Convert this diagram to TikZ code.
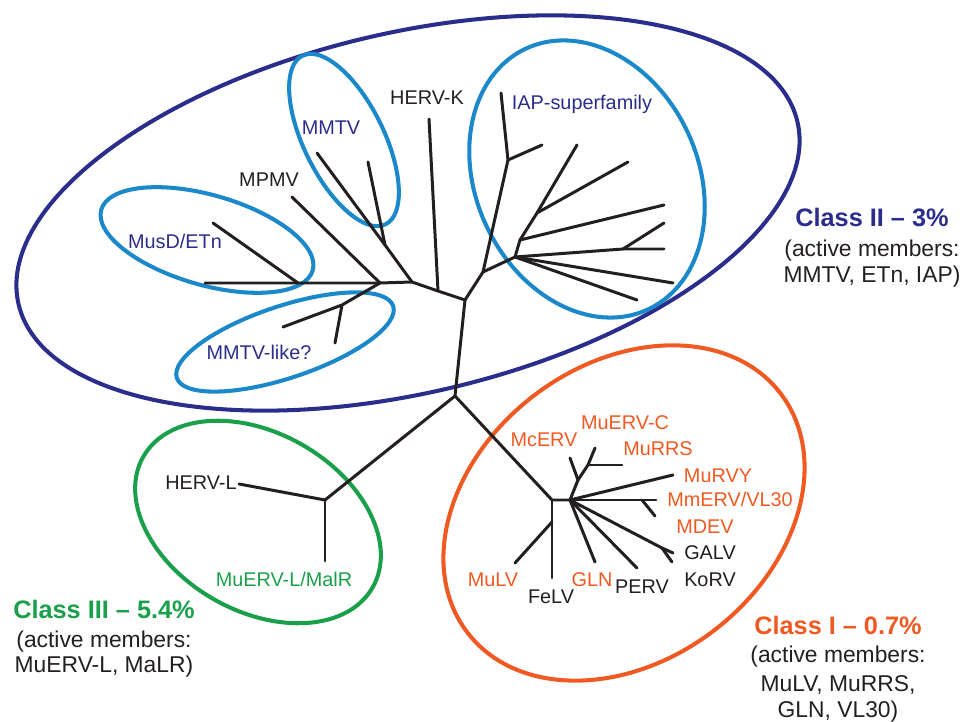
\documentclass[tikz,border=0pt]{standalone}
\usepackage{fontspec}
\setmainfont{Liberation Sans}
\definecolor{navy}{RGB}{43,45,140}
\definecolor{skyblue}{RGB}{26,136,201}
\definecolor{orng}{RGB}{240,90,34}
\definecolor{grn}{RGB}{26,160,75}
\definecolor{ink}{RGB}{35,31,32}
\newcommand{\lblsize}{\fontsize{11.3}{13}\selectfont}
\newcommand{\clssize}{\fontsize{14.4}{17}\selectfont\bfseries}
\newcommand{\memsize}{\fontsize{13}{15.5}\selectfont}

\begin{document}
\begin{tikzpicture}[x=0.02cm,y=-0.02cm,
  branch/.style={line width=1.7pt,draw=ink,line cap=round,line join=round},
  ring/.style={line width=2.3pt},
  leaf/.style={font=\lblsize,inner sep=0pt,anchor=base},
  cls/.style={font=\clssize,inner sep=0pt,anchor=base},
  mem/.style={font=\memsize,text=ink,inner sep=0pt,anchor=base}]
\useasboundingbox (0,0) rectangle (965,722);
%%Rings
\draw[ring,navy,rotate around={13.2:(408,213)}] (408,213) ellipse [x radius=400,y radius=180];
\draw[ring,skyblue,rotate around={-63.8:(344,140)}] (344,140) ellipse [x radius=94,y radius=40];
\draw[ring,skyblue,rotate around={-16:(207,240)}] (207,240) ellipse [x radius=110,y radius=45];
\draw[ring,skyblue,rotate around={18.4:(285,342)}] (285,342) ellipse [x radius=114,y radius=36];
\draw[ring,skyblue,rotate around={-64.7:(587,179)}] (587,179) ellipse [x radius=144,y radius=111];
\draw[ring,grn,rotate around={-29.7:(258,522)}] (258,522) ellipse [x radius=132,y radius=89];
\draw[ring,orng,rotate around={37.3:(624,513)}] (624,513) ellipse [x radius=197,y radius=148];
%%Junctions
\coordinate (root) at (455,396);
\coordinate (top) at (465,300);
\coordinate (kj) at (438,291);
\coordinate (lj) at (412,282);
\coordinate (mmtvj) at (385,245);
\coordinate (mpmvj) at (380,283);
\coordinate (musdj) at (298,283);
\coordinate (likej) at (342,305);
\coordinate (iap0) at (483,272);
\coordinate (iap1) at (508,160);
\coordinate (iap2) at (515,257);
\coordinate (iap2h) at (623,249);
\coordinate (iap3) at (520,240);
\coordinate (iap4) at (537,213);
\coordinate (c3j) at (325,500);
\coordinate (c1a) at (552,500);
\coordinate (c1b) at (570,500);
\coordinate (felvj) at (552,522);
\coordinate (mcj) at (578,480);
\coordinate (mcj2) at (588,465);
\coordinate (vlj) at (642,500);
\coordinate (galvj) at (662,548);
%%Tips
\coordinate (hervk) at (429,119);
\coordinate (mmtva) at (317,153);
\coordinate (mmtvb) at (368,162);
\coordinate (mpmv) at (292,197);
\coordinate (musda) at (205,283);
\coordinate (musdb) at (213,223);
\coordinate (likea) at (283,327);
\coordinate (likeb) at (335,343);
\coordinate (iapa) at (501,93);
\coordinate (iapb) at (542,145);
\coordinate (iapc) at (577,145);
\coordinate (iapd) at (628,162);
\coordinate (iape) at (664,205);
\coordinate (iapf) at (664,223);
\coordinate (iapg) at (664,249);
\coordinate (iaph) at (673,283);
\coordinate (iapi) at (637,300);
\coordinate (hervl) at (239,484);
\coordinate (muervl) at (325,561);
\coordinate (mulv) at (515,563);
\coordinate (felv) at (552,578);
\coordinate (mcerv) at (570,458);
\coordinate (muervc) at (595,448);
\coordinate (murrs) at (622,465);
\coordinate (murvy) at (673,475);
\coordinate (vl30) at (656,500);
\coordinate (mdev) at (655,516);
\coordinate (galv) at (673,553);
\coordinate (korv) at (672,562);
\coordinate (perv) at (637,568);
\coordinate (gln) at (595,562);
%%Class II tree
\draw[branch] (root) -- (top) -- (kj) -- (lj) -- (mpmvj) -- (musdj) -- (musda);
\draw[branch] (kj) -- (hervk);
\draw[branch] (lj) -- (mmtvj) -- (mmtva);
\draw[branch] (mmtvj) -- (mmtvb);
\draw[branch] (mpmvj) -- (mpmv);
\draw[branch] (musdj) -- (musdb);
\draw[branch] (mpmvj) -- (likej) -- (likea);
\draw[branch] (likej) -- (likeb);
\draw[branch] (top) -- (iap0) -- (iap1) -- (iapa);
\draw[branch] (iap1) -- (iapb);
\draw[branch] (iap0) -- (iap2) -- (iaph);
\draw[branch] (iap2) -- (iapi);
\draw[branch] (iap2) -- (iap2h) -- (iapg);
\draw[branch] (iap2h) -- (iapf);
\draw[branch] (iap2) -- (iap3) -- (iape);
\draw[branch] (iap3) -- (iap4) -- (iapd);
\draw[branch] (iap4) -- (iapc);
%%Class III tree
\draw[branch] (root) -- (c3j) -- (hervl);
\draw[branch] (c3j) -- (muervl);
%%Class I tree
\draw[branch] (root) -- (c1a) -- (c1b);
\draw[branch] (c1a) -- (felvj) -- (felv);
\draw[branch] (felvj) -- (mulv);
\draw[branch] (c1b) -- (mcj) -- (mcerv);
\draw[branch] (mcj) -- (mcj2) -- (muervc);
\draw[branch] (mcj2) -- (murrs);
\draw[branch] (c1b) -- (murvy);
\draw[branch] (c1b) -- (vlj) -- (vl30);
\draw[branch] (vlj) -- (mdev);
\draw[branch] (c1b) -- (galvj) -- (galv);
\draw[branch] (galvj) -- (korv);
\draw[branch] (c1b) -- (perv);
\draw[branch] (c1b) -- (gln);
%%Labels
\node[leaf,text=navy] (tmmtv) at (331,135) {MMTV};
\node[leaf,text=ink] (thervk) at (427,105) {HERV-K};
\node[leaf,text=ink] (tmpmv) at (269,187) {MPMV};
\node[leaf,text=navy] (tmusd) at (175,249) {MusD/ETn};
\node[leaf,text=navy] (tlike) at (259,360) {MMTV-like?};
\node[leaf,text=navy] (tiap) at (582,110) {IAP-superfamily};
\node[leaf,text=ink,anchor=base east] (thervl) at (237,490) {HERV-L};
\node[leaf,text=grn] (tmuervl) at (284,587) {MuERV-L/MalR};
\node[leaf,text=orng] (tmcerv) at (544,447) {McERV};
\node[leaf,text=orng] (tmuervc) at (625,430) {MuERV-C};
\node[leaf,text=orng] (tmurrs) at (658,456) {MuRRS};
\node[leaf,text=orng] (tmurvy) at (718,483) {MuRVY};
\node[leaf,text=orng] (tvl30) at (730,507) {MmERV/VL30};
\node[leaf,text=orng] (tmdev) at (705,534) {MDEV};
\node[leaf,text=ink] (tgalv) at (710,560) {GALV};
\node[leaf,text=ink] (tkorv) at (710,587) {KoRV};
\node[leaf,text=orng] (tmulv) at (493,587) {MuLV};
\node[leaf,text=ink] (tfelv) at (551,604) {FeLV};
\node[leaf,text=orng] (tgln) at (592,587) {GLN};
\node[leaf,text=ink] (tperv) at (642,594) {PERV};
%%Classes
\node[cls,text=navy] (ctwo) at (872,227) {Class II -- 3\%};
\node[mem] (ctwoa) at (872,257) {(active members:};
\node[mem] (ctwob) at (872,283) {MMTV, ETn, IAP)};
\node[cls,text=grn] (cthree) at (104,619) {Class III -- 5.4\%};
\node[mem] (cthreea) at (104,648) {(active members:};
\node[mem] (cthreeb) at (104,673) {MuERV-L, MaLR)};
\node[cls,text=orng] (cone) at (838,635) {Class I -- 0.7\%};
\node[mem] (conea) at (838,663) {(active members:};
\node[mem] (coneb) at (838,692) {MuLV, MuRRS,};
\node[mem] (conec) at (838,718) {GLN, VL30)};
\end{tikzpicture}
\end{document}
